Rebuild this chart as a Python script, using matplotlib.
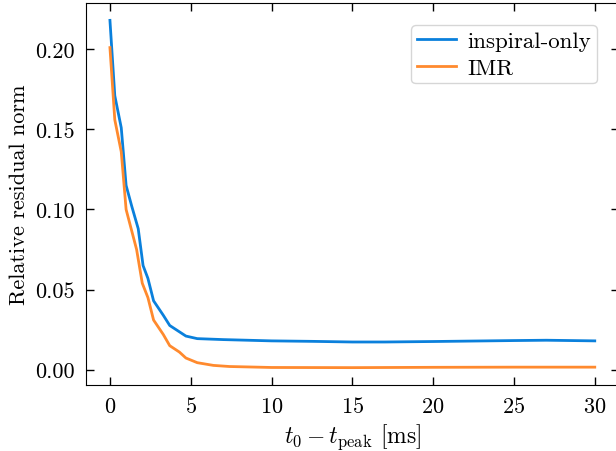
import matplotlib
matplotlib.use("Agg")
import matplotlib.pyplot as plt

plt.rcParams["font.family"] = "serif"
plt.rcParams["font.serif"] = ["cmr10", "DejaVu Serif"]
plt.rcParams["mathtext.fontset"] = "cm"
plt.rcParams["axes.formatter.use_mathtext"] = True
plt.rcParams["font.size"] = 16

t_insp = [0, 0.3, 0.7, 1.0, 1.35, 1.75, 2.05, 2.35, 2.7, 3.3, 3.7, 4.7, 5.4,
          7, 10, 12.5, 15, 17, 20, 22.5, 25, 27, 30]
r_insp = [0.218, 0.171, 0.151, 0.115, 0.102, 0.088, 0.065, 0.057, 0.043, 0.034,
          0.0276, 0.021, 0.0194, 0.0188, 0.0180, 0.0177, 0.0173, 0.0173, 0.0176,
          0.0179, 0.0182, 0.0184, 0.0180]

t_imr = [0, 0.3, 0.7, 1.0, 1.65, 2.0, 2.35, 2.7, 3.3, 3.7, 4.3, 4.7, 5.4,
         6.4, 7.4, 10, 15, 20, 25, 30]
r_imr = [0.201, 0.156, 0.136, 0.100, 0.075, 0.054, 0.045, 0.031, 0.022, 0.015,
         0.011, 0.0073, 0.0044, 0.0027, 0.0020, 0.0014, 0.0013, 0.0015, 0.0016,
         0.0016]

fig = plt.figure(figsize=(6.16, 4.52), dpi=100)
ax = fig.add_axes([85.7 / 616, 66 / 452, (619 - 85.7) / 616, 382 / 452])

ax.plot(t_insp, r_insp, color="#0a80dc", lw=2, label="inspiral-only")
ax.plot(t_imr, r_imr, color="#ff8a2e", lw=2, label="IMR")

ax.set_xticks([0, 5, 10, 15, 20, 25, 30])
ax.set_yticks([0, 0.05, 0.10, 0.15, 0.20])
ax.set_yticklabels(["0.00", "0.05", "0.10", "0.15", "0.20"])
ax.tick_params(direction="in", top=True, right=True, length=6, width=1, pad=8)
ax.set_xlabel(r"$t_0 - t_{\rm peak}$ [ms]", fontsize=17)
ax.set_ylabel("Relative residual norm")

leg = ax.legend(loc="upper right", fontsize=16.5, handlelength=1.7,
                handletextpad=0.5, labelspacing=0.3, borderpad=0.25,
                borderaxespad=0)
leg.set_bbox_to_anchor(((597 - 85.7) / (619 - 85.7), 1 - 22 / 382),
                       transform=ax.transAxes)

fig.savefig("out.png", dpi=100)
